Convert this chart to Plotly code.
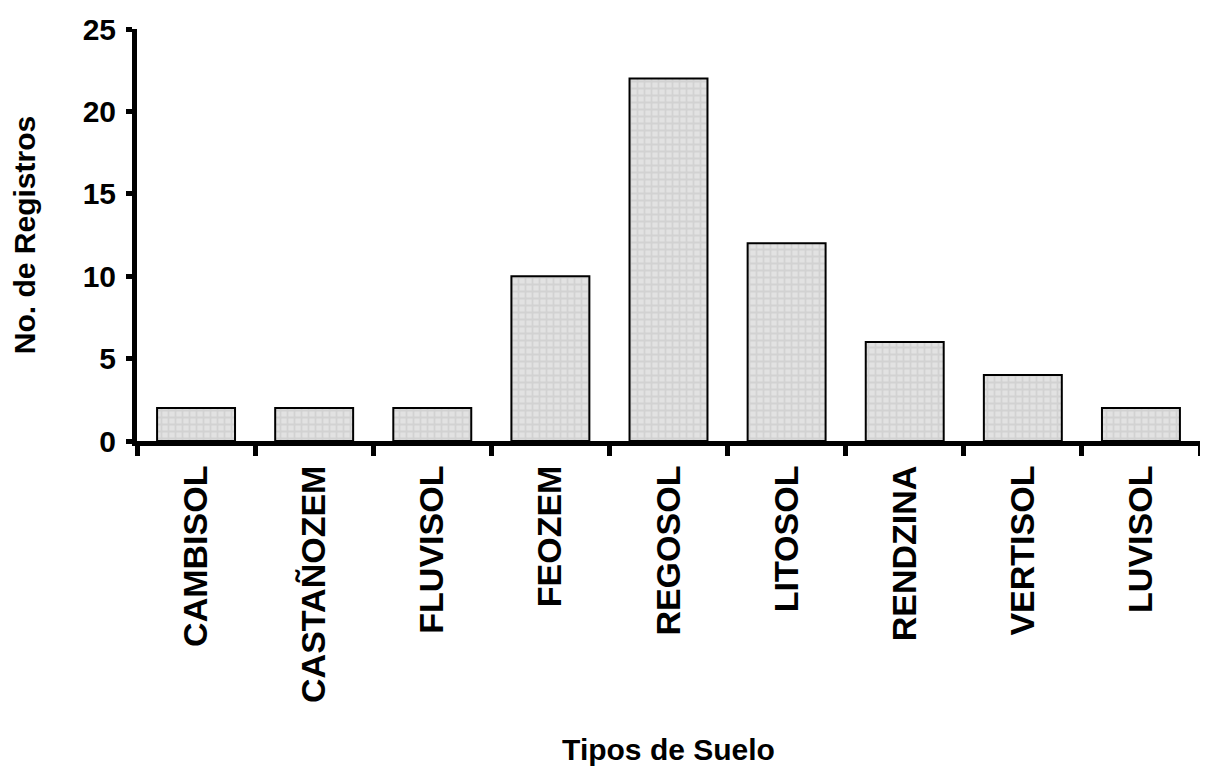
import plotly.graph_objects as go

categories = ["CAMBISOL", "CASTAÑOZEM", "FLUVISOL", "FEOZEM", "REGOSOL",
              "LITOSOL", "RENDZINA", "VERTISOL", "LUVISOL"]
values = [2, 2, 2, 10, 22, 12, 6, 4, 2]
y_ticks = [0, 5, 10, 15, 20, 25]

font_family = "Liberation Sans, Arial, sans-serif"

fig = go.Figure(go.Bar(
    x=categories, y=values,
    marker=dict(
        color="#dcdcdc",
        line=dict(color="black", width=2),
        pattern=dict(shape="+", fgcolor="#c2c2c2", bgcolor="#e2e2e2", size=7, solidity=0.45),
    ),
))

fig.update_layout(
    width=1200, height=758,
    margin=dict(l=129, r=8, t=21, b=325),
    plot_bgcolor="white", paper_bgcolor="white",
    bargap=0.34,
    showlegend=False,
    font=dict(family=font_family, color="black"),
)
fig.update_xaxes(
    showline=True, linecolor="black", linewidth=5,
    ticks="outside", tickson="boundaries", ticklen=10, tickwidth=5, tickcolor="black",
    tickangle=-90, ticklabelstandoff=6,
    tickfont=dict(family=font_family, size=34, color="black", weight="bold"),
    title=dict(text="<b>Tipos de Suelo</b>", font=dict(family=font_family, size=30), standoff=39),
    showgrid=False, automargin=False,
)
fig.update_yaxes(
    range=[0, 25], tickvals=y_ticks,
    showline=True, linecolor="black", linewidth=5,
    ticks="outside", ticklen=6, tickwidth=5, tickcolor="black",
    ticklabelstandoff=4,
    tickfont=dict(family=font_family, size=30, color="black", weight="bold"),
    title=dict(text="<b>No. de Registros</b>", font=dict(family=font_family, size=30), standoff=53),
    showgrid=False, zeroline=False, automargin=False,
)

fig.write_html("out.html")
